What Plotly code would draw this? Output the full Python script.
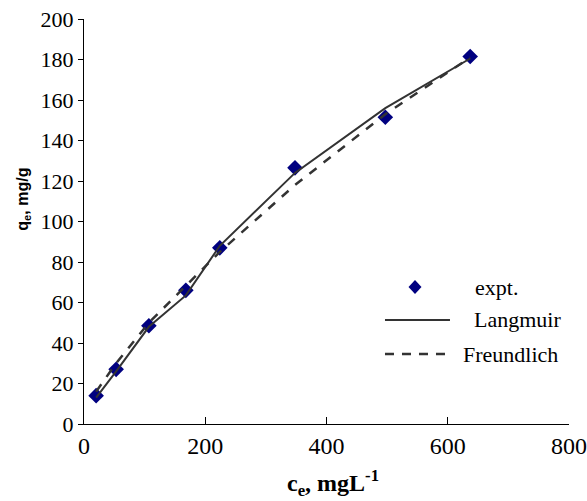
import plotly.graph_objects as go

# Data
ce_expt = [20, 53, 107, 168, 224, 348, 497, 637]
qe_expt = [14, 27, 48.5, 66, 87, 126.5, 151.5, 181.5]
qe_langmuir = [13, 26, 48, 63.5, 88, 124, 156, 180.5]
qe_freundlich = [16, 30, 50, 68, 85, 118, 153, 181]

x_ticks = [0, 200, 400, 600, 800]
y_ticks = [0, 20, 40, 60, 80, 100, 120, 140, 160, 180, 200]
legend_names = ["expt.", "Langmuir", "Freundlich"]

SERIF = "Liberation Serif, Times New Roman, serif"
SANS = "Liberation Sans, Arial, sans-serif"
NAVY = "#000080"
GREY = "#333333"

fig = go.Figure()
fig.add_trace(go.Scatter(
    x=ce_expt, y=qe_expt, mode="markers", name=legend_names[0],
    marker=dict(symbol="diamond", size=12, color=NAVY)))
fig.add_trace(go.Scatter(
    x=ce_expt, y=qe_langmuir, mode="lines", name=legend_names[1],
    line=dict(color=GREY, width=2)))
fig.add_trace(go.Scatter(
    x=ce_expt, y=qe_freundlich, mode="lines", name=legend_names[2],
    line=dict(color=GREY, width=2.5, dash="dash")))

# Hand-drawn legend (key shapes + labels), in paper coordinates
shapes = [
    dict(type="path", xref="paper", yref="paper", xsizemode="pixel", ysizemode="pixel",
         xanchor=0.6825, yanchor=0.338, path="M 0 7 L 6.5 0 L 0 -7 L -6.5 0 Z",
         fillcolor=NAVY, line=dict(width=0)),
    dict(type="line", xref="paper", yref="paper", x0=0.6206, x1=0.7546, y0=0.2568, y1=0.2568,
         line=dict(color=GREY, width=2)),
    dict(type="line", xref="paper", yref="paper", x0=0.6206, x1=0.7505, y0=0.1728, y1=0.1728,
         line=dict(color=GREY, width=2.5, dash="9px,8px")),
]
annotations = [
    dict(text=legend_names[0], x=0.802, y=0.338),
    dict(text=legend_names[1], x=0.800, y=0.2568),
    dict(text=legend_names[2], x=0.777, y=0.1728),
]
for a in annotations:
    a.update(xref="paper", yref="paper", xanchor="left", yanchor="middle",
             showarrow=False, font=dict(family=SERIF, size=22, color="black"))

annotations.append(dict(text="<b>c<sub>e</sub>, mgL<sup>-1</sup></b>", xref="paper", yref="paper",
                        x=0.513, y=-0.145, xanchor="center", yanchor="middle", showarrow=False,
                        font=dict(family=SERIF, size=24, color="black")))
annotations.append(dict(text="<b>q<sub>e</sub>, mg/g</b>", xref="paper", yref="paper",
                        x=-0.124, y=0.556, xanchor="center", yanchor="middle", showarrow=False,
                        textangle=-90, font=dict(family=SANS, size=16, color="black")))

fig.update_layout(
    width=587, height=501,
    margin=dict(l=84, r=18, t=19, b=77),
    paper_bgcolor="white", plot_bgcolor="white",
    font=dict(family=SERIF, color="black"),
    showlegend=False,
    shapes=shapes, annotations=annotations,
    xaxis=dict(range=[0, 800], tickvals=x_ticks, ticks="inside", ticklen=7,
               tickcolor="black", showline=True, linecolor="black", linewidth=1,
               showgrid=False, zeroline=False, automargin=False,
               ticklabeloverflow="allow",
               tickfont=dict(family=SERIF, size=24)),
    yaxis=dict(range=[0, 200], tickvals=y_ticks, ticks="outside", ticklen=5,
               tickcolor="black", showline=True, linecolor="black", linewidth=1,
               showgrid=False, zeroline=False, automargin=False,
               ticklabeloverflow="allow",
               tickfont=dict(family=SERIF, size=22)),
)

fig.write_html("out.html", config={"displayModeBar": False},
               post_script="document.body.style.margin='0';document.body.style.overflow='hidden';")
